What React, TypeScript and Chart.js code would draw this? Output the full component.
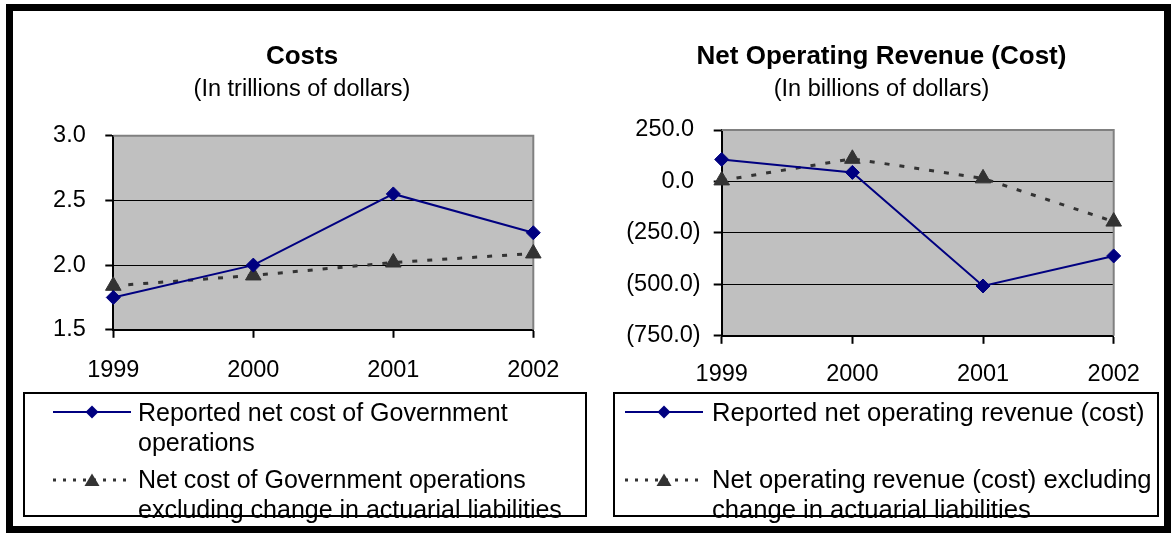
import React, { useEffect, useRef } from "react";
import { Chart, registerables } from "chart.js";

Chart.register(...registerables);

const FONT = "'Liberation Sans', Arial, Helvetica, sans-serif";

// ---- data ----
const years = ["1999", "2000", "2001", "2002"];

const costsReported = [1.75, 2.0, 2.55, 2.25];
const costsExcluding = [1.84, 1.92, 2.02, 2.09];
const costsTicks = [1.5, 2.0, 2.5, 3.0];

const revenueReported = [107, 44, -508, -362];
const revenueExcluding = [5, 110, 15, -195];
const revenueTicks = [-750, -500, -250, 0, 250];

const costsTitle = "Costs";
const costsSubtitle = "(In trillions of dollars)";
const revenueTitle = "Net Operating Revenue (Cost)";
const revenueSubtitle = "(In billions of dollars)";

const costsLegend = [
  ["Reported net cost of Government", "operations"],
  ["Net cost of Government operations", "excluding change in actuarial liabilities"],
];
const revenueLegend = [
  ["Reported net operating revenue (cost)"],
  ["Net operating revenue (cost) excluding", "change in actuarial liabilities"],
];

const NAVY = "#000080";
const DARK = "#333333";

const fmtCosts = (v: number) => v.toFixed(1) + " ";
const fmtRevenue = (v: number) =>
  v < 0 ? "(" + Math.abs(v).toFixed(1) + ")" : v.toFixed(1) + " ";

const plotBg = {
  id: "plotBg",
  beforeDraw(chart: any) {
    const { ctx, chartArea: a } = chart;
    ctx.save();
    ctx.fillStyle = "#C0C0C0";
    ctx.fillRect(a.left, a.top, a.right - a.left, a.bottom - a.top);
    ctx.restore();
  },
  beforeDatasetsDraw(chart: any) {
    const { ctx, chartArea: a } = chart;
    ctx.save();
    ctx.strokeStyle = "#808080";
    ctx.lineWidth = 2;
    ctx.beginPath();
    ctx.moveTo(a.left, a.top);
    ctx.lineTo(a.right, a.top);
    ctx.lineTo(a.right, a.bottom);
    ctx.stroke();
    ctx.restore();
  },
};

type Geo = {
  left: number;
  top: number;
  width: number;
  height: number;
  yWidth: number;
  rightSpace: number;
  padRight: number;
  subPadBottom: number;
  xPad: number;
};

function LineChart(props: {
  geo: Geo;
  title: string;
  subtitle: string;
  labels: string[];
  reported: number[];
  excluding: number[];
  reportedLabel: string;
  excludingLabel: string;
  ticks: number[];
  fmt: (v: number) => string;
}) {
  const ref = useRef<HTMLCanvasElement>(null);
  const { geo } = props;
  useEffect(() => {
    const ticks = props.ticks;
    const min = ticks[0];
    const max = ticks[ticks.length - 1];
    const tickFont = { family: FONT, size: 23.5 };
    const chart = new Chart(ref.current as HTMLCanvasElement, {
      type: "line",
      data: {
        labels: props.labels,
        datasets: [
          {
            label: props.reportedLabel,
            data: props.reported,
            borderColor: NAVY,
            backgroundColor: NAVY,
            borderWidth: 2,
            pointStyle: "rectRot",
            pointRadius: 7,
            pointBorderWidth: 1,
            pointBackgroundColor: NAVY,
            pointBorderColor: NAVY,
            tension: 0,
            clip: false,
          } as any,
          {
            label: props.excludingLabel,
            data: props.excluding,
            borderColor: DARK,
            backgroundColor: DARK,
            borderWidth: 3,
            borderDash: [5, 10],
            pointStyle: "triangle",
            pointRadius: 9,
            pointBorderWidth: 1,
            pointBackgroundColor: DARK,
            pointBorderColor: DARK,
            tension: 0,
            clip: false,
          } as any,
        ],
      },
      options: {
        animation: false,
        responsive: false,
        maintainAspectRatio: false,
        events: [],
        layout: {
          padding: { left: 13, right: geo.padRight, top: 0, bottom: 0 },
        },
        plugins: {
          legend: { display: false },
          tooltip: { enabled: false },
          title: {
            display: true,
            text: props.title,
            color: "#000",
            font: { family: FONT, size: 26, weight: "bold", lineHeight: 1.2 },
            padding: { top: 29.4, bottom: 2 },
          },
          subtitle: {
            display: true,
            text: props.subtitle,
            color: "#000",
            font: { family: FONT, size: 23.5, weight: "normal", lineHeight: 1.2 },
            padding: { top: 1.3, bottom: geo.subPadBottom },
          },
        },
        scales: {
          x: {
            type: "category",
            offset: false,
            grid: {
              display: true,
              drawOnChartArea: false,
              drawTicks: true,
              tickLength: 8,
              tickColor: "#000",
              tickWidth: 2,
              color: "#000",
              offset: false,
            },
            border: { display: true, color: "#000", width: 2 },
            ticks: {
              color: "#000",
              font: tickFont,
              padding: geo.xPad,
              maxRotation: 0,
              autoSkip: false,
            },
          },
          y: {
            type: "linear",
            position: "left",
            min,
            max,
            afterBuildTicks: (s: any) => {
              s.ticks = ticks.map((v) => ({ value: v }));
            },
            afterFit: (s: any) => {
              s.width = geo.yWidth;
            },
            grid: {
              color: (c: any) =>
                c.tick && c.tick.value === max ? "rgba(0,0,0,0)" : "#000",
              lineWidth: 1,
              drawTicks: true,
              tickLength: 8,
              tickColor: "#000",
              tickWidth: 2,
            },
            border: { display: true, color: "#000", width: 2 },
            ticks: {
              color: "#000",
              font: tickFont,
              padding: 13,
              callback: (v: any) => props.fmt(Number(v)),
            },
          },
          // empty right-hand margin (keeps the titles centred on the whole chart object)
          yRight: {
            type: "linear",
            position: "right",
            display: true,
            min,
            max,
            afterFit: (s: any) => {
              s.width = geo.rightSpace;
            },
            grid: { display: false, drawTicks: false },
            border: { display: false },
            ticks: { display: false },
          },
        },
      } as any,
      plugins: [plotBg],
    });
    return () => chart.destroy();
  }, []);
  return (
    <canvas
      ref={ref}
      width={geo.width}
      height={geo.height}
      style={{
        position: "absolute",
        left: geo.left,
        top: geo.top,
        width: geo.width,
        height: geo.height,
        display: "block",
      }}
    />
  );
}

function SolidSample({ left, top }: { left: number; top: number }) {
  return (
    <svg width={80} height={20} style={{ position: "absolute", left, top }}>
      <line x1={1} y1={10} x2={79} y2={10} stroke={NAVY} strokeWidth={2} />
      <polygon points="40,3.5 46.5,10 40,16.5 33.5,10" fill={NAVY} />
    </svg>
  );
}

function DottedSample({ left, top }: { left: number; top: number }) {
  return (
    <svg width={80} height={20} style={{ position: "absolute", left, top }}>
      <line
        x1={1}
        y1={10}
        x2={79}
        y2={10}
        stroke={DARK}
        strokeWidth={3}
        strokeDasharray="3 7"
      />
      <polygon points="40,3.5 47.5,16 32.5,16" fill={DARK} />
    </svg>
  );
}

function Legend({
  boxLeft,
  boxWidth,
  sampleLeft,
  textLeft,
  fontSize,
  entries,
}: {
  boxLeft: number;
  boxWidth: number;
  sampleLeft: number;
  textLeft: number;
  fontSize: number;
  entries: string[][];
}) {
  const textStyle = (top: number): React.CSSProperties => ({
    position: "absolute",
    left: textLeft,
    top,
    fontFamily: FONT,
    fontSize,
    lineHeight: "30px",
    color: "#000",
    whiteSpace: "nowrap",
  });
  return (
    <>
      <div
        style={{
          position: "absolute",
          left: boxLeft,
          top: 392,
          width: boxWidth,
          height: 125,
          border: "2px solid #000",
          boxSizing: "border-box",
        }}
      />
      <SolidSample left={sampleLeft} top={402} />
      <div style={textStyle(397)}>
        {entries[0].map((t, i) => (
          <div key={i}>{t}</div>
        ))}
      </div>
      <DottedSample left={sampleLeft} top={470} />
      <div style={textStyle(464)}>
        {entries[1].map((t, i) => (
          <div key={i}>{t}</div>
        ))}
      </div>
    </>
  );
}

export default function App() {
  const leftGeo: Geo = {
    left: 14,
    top: 12,
    width: 576,
    height: 392,
    yWidth: 86.3,
    rightSpace: 43.7,
    padRight: 13,
    subPadBottom: 31.6,
    xPad: 19,
  };
  const rightGeo: Geo = {
    left: 598,
    top: 12,
    width: 566,
    height: 394,
    yWidth: 110.7,
    rightSpace: 38.3,
    padRight: 12,
    subPadBottom: 25.9,
    xPad: 17,
  };
  return (
    <div
      style={{
        position: "absolute",
        left: 0,
        top: 0,
        width: 1172,
        height: 533,
        background: "#fff",
        overflow: "hidden",
      }}
    >
      <div
        style={{
          position: "absolute",
          left: 6,
          top: 4,
          width: 1165,
          height: 529,
          border: "7px solid #000",
          boxSizing: "border-box",
        }}
      />
      <LineChart
        geo={leftGeo}
        title={costsTitle}
        subtitle={costsSubtitle}
        labels={years}
        reported={costsReported}
        excluding={costsExcluding}
        reportedLabel={costsLegend[0].join(" ")}
        excludingLabel={costsLegend[1].join(" ")}
        ticks={costsTicks}
        fmt={fmtCosts}
      />
      <LineChart
        geo={rightGeo}
        title={revenueTitle}
        subtitle={revenueSubtitle}
        labels={years}
        reported={revenueReported}
        excluding={revenueExcluding}
        reportedLabel={revenueLegend[0].join(" ")}
        excludingLabel={revenueLegend[1].join(" ")}
        ticks={revenueTicks}
        fmt={fmtRevenue}
      />
      <Legend
        boxLeft={23}
        boxWidth={564}
        sampleLeft={52}
        textLeft={138}
        fontSize={25}
        entries={costsLegend}
      />
      <Legend
        boxLeft={613}
        boxWidth={546}
        sampleLeft={624}
        textLeft={712}
        fontSize={25.6}
        entries={revenueLegend}
      />
    </div>
  );
}
